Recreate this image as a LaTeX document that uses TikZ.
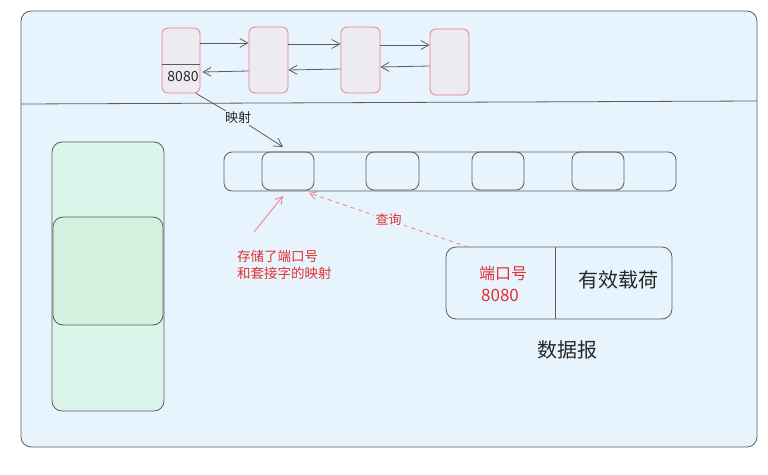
\documentclass[tikz,border=0pt]{standalone}
\usepackage{fontspec}
\setmainfont{Noto Sans CJK SC}
\usetikzlibrary{arrows.meta}
\definecolor{bgblue}{HTML}{E8F4FD}
\definecolor{edge}{HTML}{5C5C5C}
\definecolor{redline}{HTML}{E88080}
\definecolor{redtext}{HTML}{E03131}
\definecolor{listfill}{HTML}{EEEAF2}
\definecolor{greenA}{HTML}{DCF5EA}
\definecolor{greenB}{HTML}{D2F2DF}
\newcommand{\fs}[1]{\fontsize{#1}{#1}\selectfont}
\tikzset{
  box/.style={draw=edge, line width=0.8pt, rounded corners=#1, inner sep=0pt, outer sep=0pt},
  box/.default=8pt,
  listbox/.style={draw=redline, fill=listfill, line width=0.8pt, rounded corners=6pt, inner sep=0pt, minimum width=39pt, minimum height=66pt},
  slot/.style={box=8pt, minimum width=52pt, minimum height=38pt},
  link/.style={draw=edge, line width=0.8pt, -{Straight Barb[length=8pt,width=9pt]}},
  lbl/.style={inner sep=1pt, text=black!85},
}
\begin{document}
\begin{tikzpicture}[x=1pt, y=-1pt]
\useasboundingbox (0,0) rectangle (768,474);

% outer frame and the horizontal divider
\node[box=10pt, fill=bgblue, minimum width=736pt, minimum height=436pt] (frame) at (389,229) {};
\draw[edge, line width=0.8pt] (frame.west |- 0,104) -- (frame.east |- 0,101);

% doubly linked list in the upper half
\node[listbox, minimum width=38pt, minimum height=65pt] (b1) at (181,60.5) {};
\node[listbox] (b2) at (268.5,60) {};
\node[listbox] (b3) at (360.5,60) {};
\node[listbox] (b4) at (449.5,62) {};
\draw[edge, line width=0.8pt] (b1.west |- 0,64) -- (b1.east |- 0,64);
\node[lbl, font=\fs{14}] (port1) at (183,77) {8080};

\draw[link] (b1.east |- 0,43) -- (b2.west |- 0,43);
\draw[link] (b2.east |- 0,44) -- (b3.west |- 0,44);
\draw[link] (b3.east |- 0,45) -- (b4.west |- 0,45);
\draw[link] (b2.west |- 0,71) -- ([xshift=2pt]b1.east |- 0,72);
\draw[link] (b3.west |- 0,69) -- (b2.east |- 0,70);
\draw[link] (b4.west |- 0,66) -- (b3.east |- 0,67);

% socket table
\node[box=8pt, minimum width=452pt, minimum height=39pt] (table) at (450,171.5) {};
\node[slot] (c1) at (288,171) {};
\node[slot, minimum width=53pt] (c2) at (392.5,171) {};
\node[slot] (c3) at (498,171) {};
\node[slot] (c4) at (598,171) {};

% mapping from the list entry to the table slot
\node[lbl, font=\fs{13}] (map) at (238,118) {映射};
\draw[edge, line width=0.8pt] ([xshift=15pt]b1.south) -- (map);
\draw[link] (map) -- ([xshift=-5pt, yshift=5pt]c1.north);

% note about the table
\node[lbl, font=\fs{13.5}, text=redtext, align=left, anchor=west] (note) at (236,265) {存储了端口号\\[3pt]和套接字的映射};
\coordinate (ntail) at (254,232);
\draw[redline, line width=0.8pt, -{Straight Barb[length=7pt,width=8pt]}] (ntail) -- ([xshift=-5pt, yshift=-6pt]c1.south);

% datagram
\node[box=10pt, minimum width=226pt, minimum height=72pt] (dg) at (559,283) {};
\draw[edge, line width=0.8pt] ([xshift=109pt]dg.north west) -- ([xshift=109pt]dg.south west);
\node[lbl, font=\fs{16}, text=redtext] (porttxt) at (503,273) {端口号};
\node[lbl, font=\fs{17}, text=redtext] (portnum) at (500,295) {8080};
\node[lbl, font=\fs{20}] (payload) at (618,280) {有效载荷};
\node[lbl, font=\fs{20}] (dgname) at (567,350) {数据报};

% lookup from the datagram port to the table
\draw[redline, line width=0.8pt, dash pattern=on 4pt off 4pt, -{Straight Barb[length=7pt,width=8pt]}]
  ([xshift=22pt]dg.north west) -- node[lbl, font=\fs{13}, text=redtext, fill=bgblue, inner sep=2pt] (query) {查询} ([xshift=21pt, yshift=-3pt]c1.south);

% socket buffers on the left
\node[box=10pt, fill=greenA, minimum width=112pt, minimum height=269pt] (g1) at (108,276.5) {};
\node[box=10pt, fill=greenB, minimum width=110pt, minimum height=108pt] (g2) at (108,271) {};
\end{tikzpicture}
\end{document}
